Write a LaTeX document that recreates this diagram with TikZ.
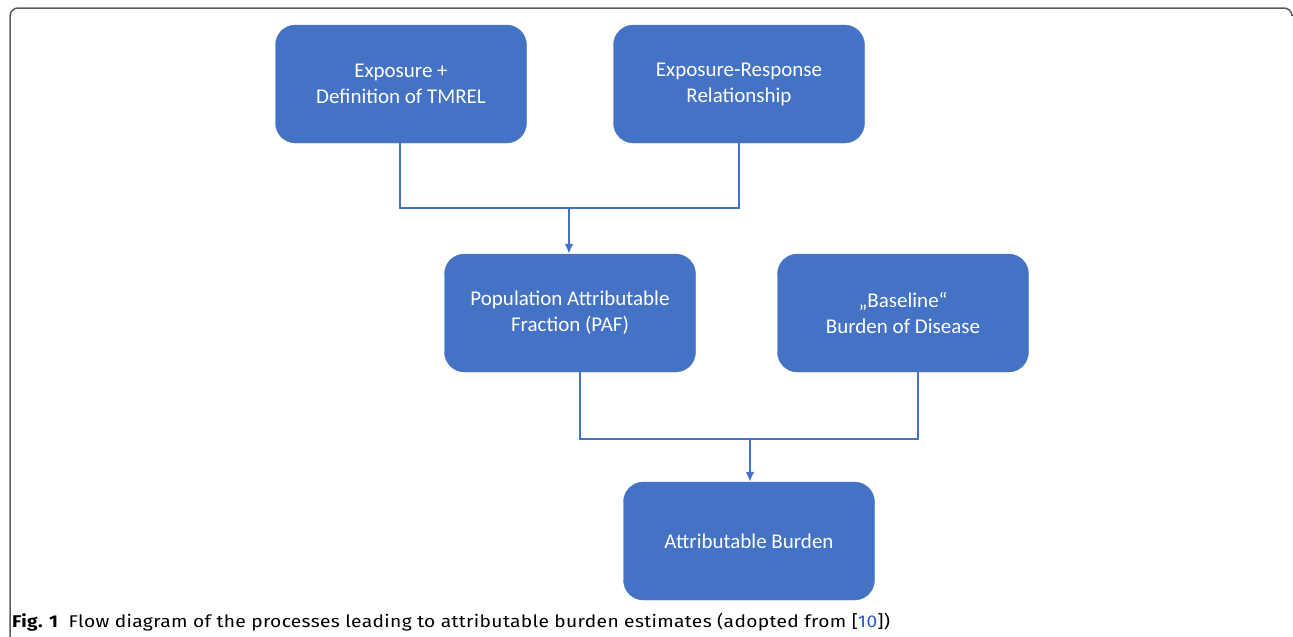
\documentclass[tikz,border=0pt]{standalone}
\usepackage{fontspec}
\setmainfont{Carlito}
\newfontfamily\capfont[FakeStretch=1.13,LetterSpace=2]{Fira Sans}
\usetikzlibrary{arrows.meta,positioning,calc}
\definecolor{OfficeBlue}{RGB}{68,114,196}
\definecolor{FrameGray}{RGB}{90,90,90}
\definecolor{LinkBlue}{RGB}{40,90,200}
\tikzset{
  stage/.style={draw=OfficeBlue,fill=OfficeBlue,rounded corners=20pt,
    minimum width=251pt,minimum height=118pt,align=center,text=white,
    font=\fontsize{21}{26}\selectfont},
  link/.style={OfficeBlue,line width=2.5pt},
  arrow/.style={-{Latex[length=10pt,width=9pt]},OfficeBlue,line width=2.5pt}
}

\begin{document}
\begin{tikzpicture}[x=1pt,y=-1pt]
  \useasboundingbox (0,0) rectangle (1293,637);
  % frame of the figure
  \draw[FrameGray,line width=1.5pt,rounded corners=8pt]
    (1292,14) -- (1292,8) -- (10,8) -- (10,640);

  \node[stage] (exposure) at (401,84) {Exposure +\\Definition of TMREL};
  \node[stage] (response) at (739,84) {Exposure-Response\\Relationship};
  \node[stage] (paf) at (570,313) {Population Attributable\\Fraction (PAF)};
  \node[stage] (baseline) at (903,313) {\char"201E Baseline\char"201C\\Burden of Disease};
  \node[stage] (burden) at (749,541) {Attributable Burden};

  % joins
  \coordinate (j1) at (569,208);
  \coordinate (j2) at (750,439);
  \draw[link] (exposure.south -| 400,0) |- (j1) -| (response.south -| 739,0);
  \draw[arrow] (j1) -- (paf.north -| j1);
  \draw[link] (paf.south -| 580,0) |- (j2) -| (baseline.south -| 918,0);
  \draw[arrow] (j2) -- (burden.north -| j2);

  \node[anchor=base west,inner sep=0pt,font=\capfont\fontsize{17}{20}\selectfont]
    (caption) at (12,627)
    {\textbf{Fig. 1}\hspace{0.6em}Flow diagram of the processes leading to attributable burden estimates (adopted from [\textcolor{LinkBlue}{10}])};
\end{tikzpicture}
\end{document}
